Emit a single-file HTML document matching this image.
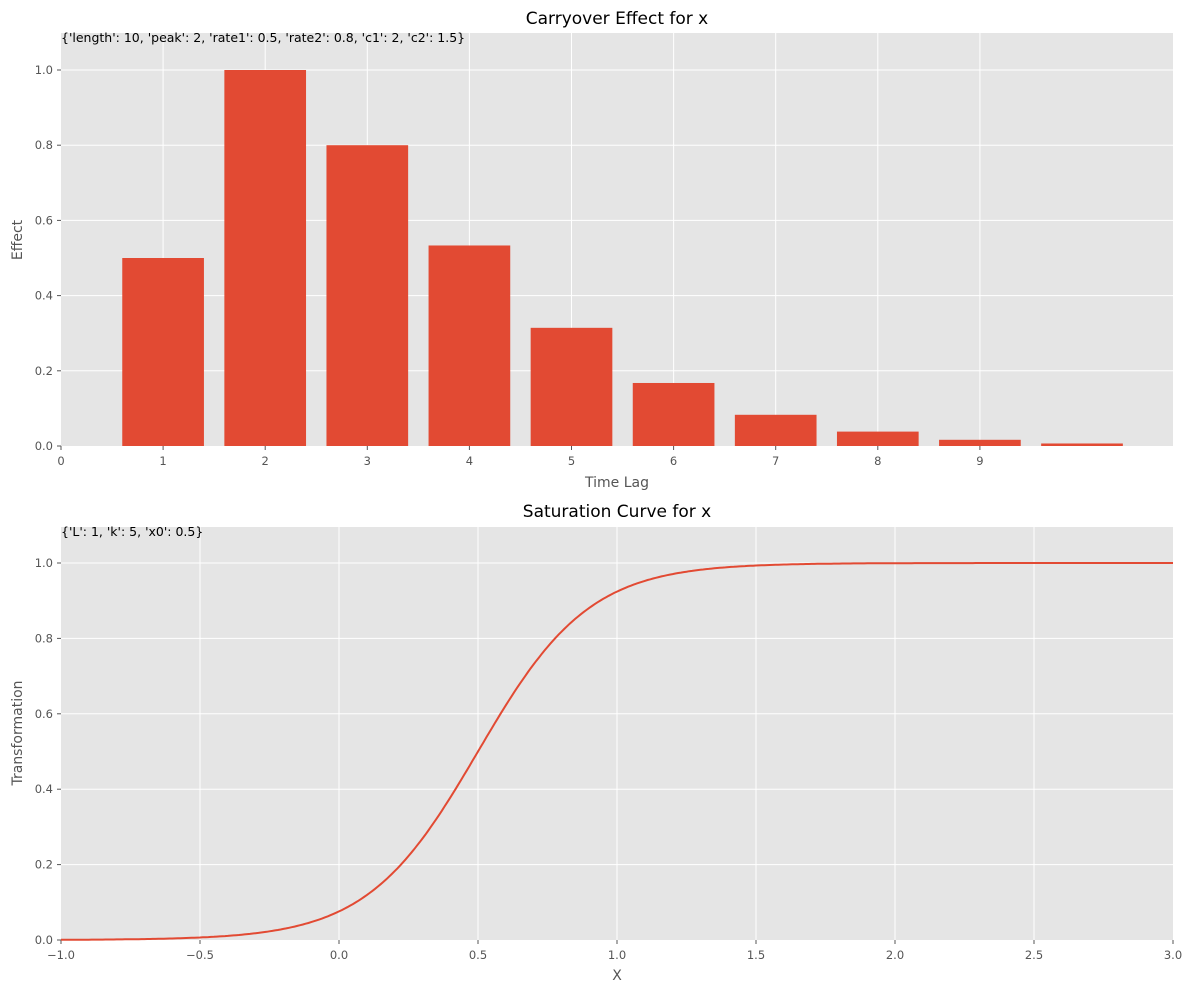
<!DOCTYPE html>
<html><head><meta charset="utf-8"><style>
body{margin:0;background:#fff;}
text{font-family:"DejaVu Sans","Liberation Sans",sans-serif;}
.t{font-size:11.5px;fill:#555}
.l{font-size:14px;fill:#555}
.ti{font-size:17px;fill:#000}
.a{font-size:12.5px;fill:#000}
</style></head><body>
<svg id="s" width="1193" height="993" xmlns="http://www.w3.org/2000/svg">
<rect x="61" y="33" width="1112" height="413" fill="#e5e5e5"/>
<rect x="61" y="527" width="1112" height="413" fill="#e5e5e5"/>
<g id="g"></g>
<text class="ti" x="617" y="24" text-anchor="middle">Carryover Effect for x</text>
<text class="ti" x="617" y="517" text-anchor="middle">Saturation Curve for x</text>
<text class="a" x="61" y="42">{'length': 10, 'peak': 2, 'rate1': 0.5, 'rate2': 0.8, 'c1': 2, 'c2': 1.5}</text>
<text class="a" x="61" y="536">{'L': 1, 'k': 5, 'x0': 0.5}</text>
<text class="l" x="617" y="487" text-anchor="middle">Time Lag</text>
<text class="l" x="617" y="980" text-anchor="middle">X</text>
<text class="l" transform="translate(22,240) rotate(-90)" text-anchor="middle">Effect</text>
<text class="l" transform="translate(22,733) rotate(-90)" text-anchor="middle">Transformation</text>
</svg>
<script>
var g=document.getElementById('g'),h='';
function X1(v){return 61+v*102.1}
function Y1(v){return 446-v*376}
function X2(v){return 61+(v+1)*278}
function Y2(v){return 940-v*377}
for(var i=0;i<=9;i++){var x=X1(i);if(i>0)h+='<line x1="'+x+'" y1="33" x2="'+x+'" y2="446" stroke="#fff"/>';h+='<line x1="'+x+'" y1="446" x2="'+x+'" y2="450" stroke="#555"/><text class="t" x="'+x+'" y="465" text-anchor="middle">'+i+'</text>';}
for(var k=0;k<=5;k++){var v=k*0.2,y=Y1(v);if(k>0)h+='<line x1="61" y1="'+y+'" x2="1173" y2="'+y+'" stroke="#fff"/>';h+='<line x1="57" y1="'+y+'" x2="61" y2="'+y+'" stroke="#555"/><text class="t" x="53" y="'+(y+4)+'" text-anchor="end">'+v.toFixed(1)+'</text>';}
var vals=[0.5,1,0.8,0.5333,0.3143,0.1676,0.0830,0.0383,0.0165,0.0067];
for(var i=0;i<10;i++){var x=X1(i+1-0.4),y=Y1(vals[i]);h+='<rect x="'+x+'" y="'+y+'" width="'+(0.8*102.1)+'" height="'+(446-y)+'" fill="#E24A33"/>';}
for(var k=0;k<=8;k++){var v=-1+k*0.5,x=X2(v);if(k>0&&k<8)h+='<line x1="'+x+'" y1="527" x2="'+x+'" y2="940" stroke="#fff"/>';h+='<line x1="'+x+'" y1="940" x2="'+x+'" y2="944" stroke="#555"/><text class="t" x="'+x+'" y="959" text-anchor="middle">'+(v<0?'\u2212'+(-v).toFixed(1):v.toFixed(1))+'</text>';}
for(var k=0;k<=5;k++){var v=k*0.2,y=Y2(v);if(k>0)h+='<line x1="61" y1="'+y+'" x2="1173" y2="'+y+'" stroke="#fff"/>';h+='<line x1="57" y1="'+y+'" x2="61" y2="'+y+'" stroke="#555"/><text class="t" x="53" y="'+(y+4)+'" text-anchor="end">'+v.toFixed(1)+'</text>';}
var p='';for(var i=0;i<=400;i++){var v=-1+i*0.01,f=1/(1+Math.exp(-5*(v-0.5)));p+=(i?'L':'M')+X2(v).toFixed(1)+' '+Y2(f).toFixed(1);}
h+='<path d="'+p+'" fill="none" stroke="#E24A33" stroke-width="2"/>';
g.innerHTML=h;
</script>
</body></html>
